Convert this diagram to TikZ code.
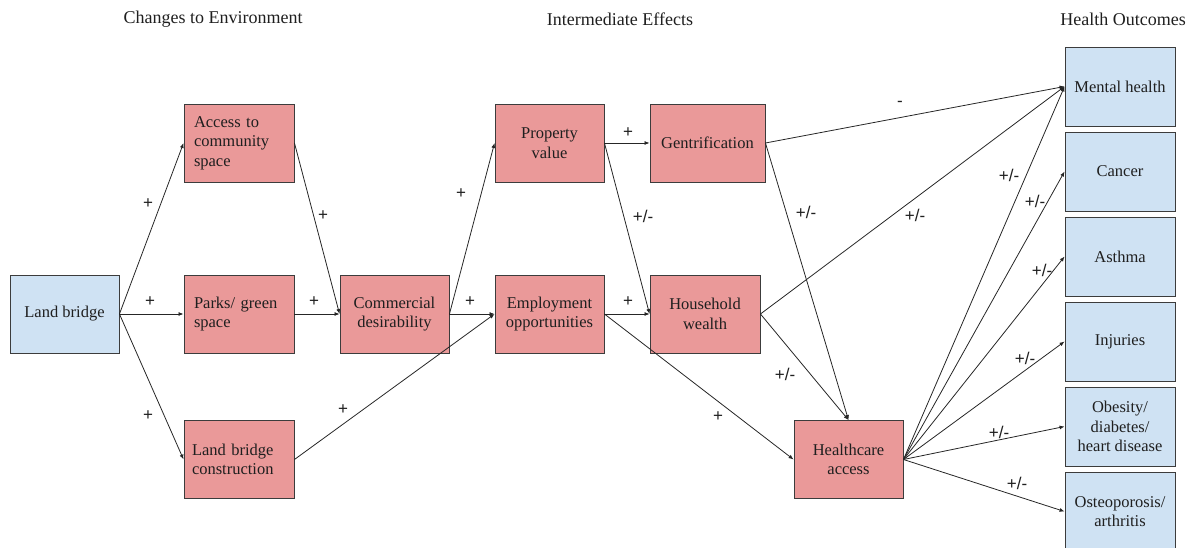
\documentclass[tikz,border=0pt]{standalone}
\usepackage{fontspec}
\setmainfont{Liberation Serif}
\newfontfamily\lblfont{Liberation Sans}
\usetikzlibrary{arrows.meta}
\definecolor{bluefill}{HTML}{CFE2F3}
\definecolor{redfill}{HTML}{EA9999}
\definecolor{edgegray}{HTML}{3C3C3C}
\definecolor{txt}{HTML}{1F1F1F}
\tikzset{
  boxbase/.style={draw=edgegray, line width=0.9pt, rectangle, minimum width=110pt, minimum height=78pt, inner sep=0pt, text=txt, font=\fontsize{16.5}{19.5}\selectfont, align=center},
  bluebox/.style={boxbase, fill=bluefill},
  redbox/.style={boxbase, fill=redfill},
  leftbox/.style={redbox, align=left, text width=90pt, inner xsep=10pt},
  conn/.style={draw=black!85, line width=0.8pt, -{Latex[length=5pt,width=4pt]}},
  sign/.style={font=\lblfont\fontsize{17}{17}\selectfont, text=txt, inner sep=0pt},
  title/.style={font=\fontsize{18}{20}\selectfont, text=txt, inner sep=0pt}
}
\begin{document}
\begin{tikzpicture}[x=1pt,y=-1pt]
\useasboundingbox (0,0) rectangle (1197,548);
\clip (0,0) rectangle (1197,548);
% titles
\node[title] (t1) at (213,19) {Changes to Environment};
\node[title] (t2) at (620,19) {Intermediate Effects};
\node[title] (t3) at (1123,19) {Health Outcomes};
% boxes
\node[bluebox, minimum width=109pt] (lb) at (64.5,314) {\raisebox{-2pt}{Land bridge}};
\node[leftbox] (acc) at (239,143) {Access to\\community\\space};
\node[leftbox] (prk) at (239,314) {Parks/ green\\space};
\node[leftbox, inner xsep=8pt, text width=94pt] (lbc) at (239,459.5) {Land bridge\\construction};
\node[redbox, minimum width=109pt] (com) at (394.5,314) {Commercial\\desirability};
\node[redbox, minimum width=109pt] (prop) at (549.5,143) {Property\\value};
\node[redbox, minimum width=109pt] (emp) at (549.5,314) {Employment\\opportunities};
\node[redbox, minimum width=115pt] (gen) at (707.5,143) {\raisebox{-2pt}{Gentrification}};
\node[redbox] (hh) at (705,314) {Household\\wealth};
\node[redbox, minimum width=109pt] (hc) at (848.5,459.5) {Healthcare\\access};
\node[bluebox, minimum height=79pt] (mh) at (1120,86.5) {\raisebox{-1pt}{Mental health}};
\node[bluebox, minimum height=79pt] (ca) at (1120,171.5) {\raisebox{-1pt}{Cancer}};
\node[bluebox, minimum height=79pt] (as) at (1120,256.5) {\raisebox{-1pt}{Asthma}};
\node[bluebox, minimum height=79pt] (inj) at (1120,341.5) {\raisebox{-1pt}{Injuries}};
\node[bluebox, minimum height=79pt] (ob) at (1120,426.5) {Obesity/\\diabetes/\\heart disease};
\node[bluebox, minimum height=79pt] (os) at (1120,511.5) {Osteoporosis/\\arthritis};
% connectors
\draw[conn] (lb.east) -- (acc.west);
\draw[conn] (lb.east) -- (prk.west);
\draw[conn] (lb.east) -- (lbc.west);
\draw[conn] (acc.east) -- (com.west);
\draw[conn] (prk.east) -- (com.west);
\draw[conn] (com.east) -- (prop.west);
\draw[conn] (com.east) -- (emp.west);
\draw[conn] (lbc.east) -- (emp.west);
\draw[conn] (prop.east) -- (gen.west);
\draw[conn] (prop.east) -- (hh.west);
\draw[conn] (emp.east) -- (hh.west);
\draw[conn] (emp.east) -- (hc.west);
\draw[conn] (gen.east) -- (mh.west);
\draw[conn] (gen.east) -- (hc.north);
\draw[conn] (hh.east) -- (mh.west);
\draw[conn] (hh.east) -- (hc.north);
\draw[conn] (hc.east) -- (mh.west);
\draw[conn] (hc.east) -- (ca.west);
\draw[conn] (hc.east) -- (as.west);
\draw[conn] (hc.east) -- (inj.west);
\draw[conn] (hc.east) -- (ob.west);
\draw[conn] (hc.east) -- (os.west);
% signs
\node[sign] (s1) at (148,204) {+};
\node[sign] (s2) at (150,302) {+};
\node[sign] (s3) at (148,416) {+};
\node[sign] (s4) at (323,216) {+};
\node[sign] (s5) at (314,302) {+};
\node[sign] (s6) at (461,194) {+};
\node[sign] (s7) at (470,302) {+};
\node[sign] (s8) at (343,410) {+};
\node[sign] (s9) at (628,133) {+};
\node[sign] (s10) at (643,216) {+/-};
\node[sign] (s11) at (628,302) {+};
\node[sign] (s12) at (718,417) {+};
\node[sign] (s13) at (900,104) {-};
\node[sign] (s14) at (806,212) {+/-};
\node[sign] (s15) at (915,215) {+/-};
\node[sign] (s16) at (785,374) {+/-};
\node[sign] (s17) at (1009,175) {+/-};
\node[sign] (s18) at (1035,201) {+/-};
\node[sign] (s19) at (1042,270) {+/-};
\node[sign] (s20) at (1025,358) {+/-};
\node[sign] (s21) at (999,432) {+/-};
\node[sign] (s22) at (1017,483) {+/-};
\end{tikzpicture}
\end{document}
